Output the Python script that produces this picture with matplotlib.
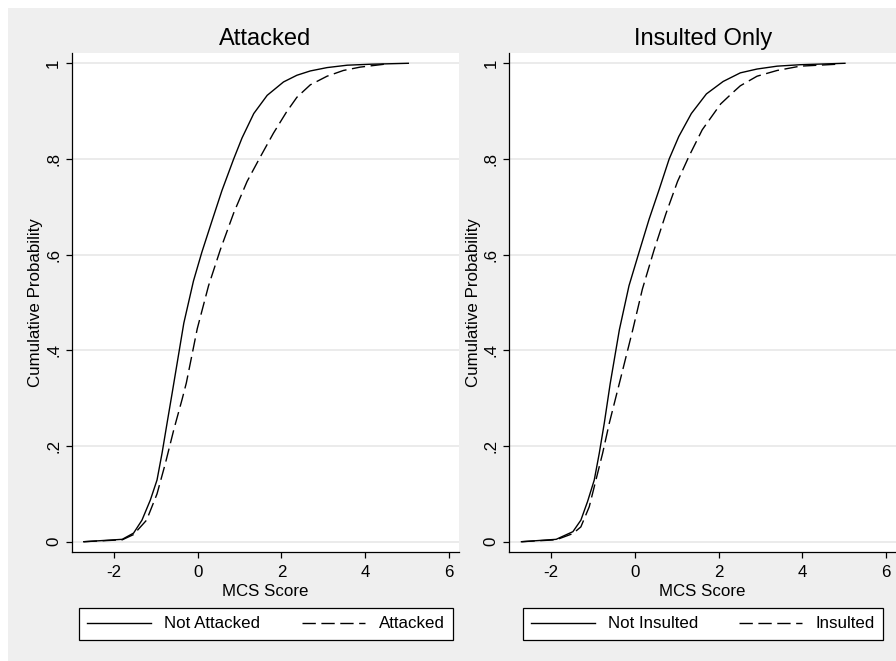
import numpy as np
import matplotlib
matplotlib.use("Agg")
import matplotlib.pyplot as plt
from matplotlib.patches import Rectangle

plt.rcParams['font.family'] = ['Liberation Sans', 'DejaVu Sans']

# cumulative distributions
# panel 1 : Attacked
x_not_att = [-2.72, -1.80, -1.53, -1.33, -1.13, -0.97, -0.85, -0.73, -0.61, -0.33, -0.10, 0.10,
             0.34, 0.58, 0.86, 1.06, 1.34, 1.66, 2.05, 2.37, 2.69, 3.09, 3.57, 4.12, 5.03]
y_not_att = [0.0, 0.005, 0.018, 0.045, 0.087, 0.129, 0.185, 0.248, 0.31, 0.457, 0.545, 0.605,
             0.67, 0.734, 0.80, 0.844, 0.895, 0.933, 0.961, 0.975, 0.984, 0.991, 0.996, 0.998, 1.0]
x_att = [-2.72, -1.80, -1.53, -1.22, -0.97, -0.77, -0.57, -0.37, -0.27, -0.01, 0.26, 0.54,
         0.86, 1.18, 1.50, 1.81, 2.12, 2.37, 2.69, 3.09, 3.48, 3.88, 4.36, 4.55]
y_att = [0.0, 0.004, 0.015, 0.045, 0.10, 0.164, 0.234, 0.298, 0.332, 0.445, 0.535, 0.61,
         0.687, 0.753, 0.805, 0.854, 0.898, 0.929, 0.955, 0.973, 0.985, 0.992, 0.997, 0.999]

# panel 2 : Insulted Only
x_not_ins = [-2.71, -1.88, -1.48, -1.29, -1.13, -0.97, -0.85, -0.73, -0.59, -0.37, -0.14, 0.10,
             0.34, 0.58, 0.82, 1.05, 1.35, 1.71, 2.11, 2.52, 2.92, 3.40, 3.95, 5.02]
y_not_ins = [0.0, 0.005, 0.021, 0.045, 0.084, 0.129, 0.185, 0.248, 0.33, 0.443, 0.535, 0.605,
             0.674, 0.736, 0.80, 0.847, 0.895, 0.936, 0.962, 0.98, 0.988, 0.994, 0.997, 1.0]
x_ins = [-2.71, -1.88, -1.48, -1.29, -1.09, -0.93, -0.77, -0.61, -0.33, -0.05, 0.18,
         0.46, 0.74, 1.02, 1.29, 1.61, 2.05, 2.33, 2.52, 2.92, 3.40, 3.95, 4.83]
y_ins = [0.0, 0.004, 0.017, 0.031, 0.073, 0.129, 0.185, 0.248, 0.345, 0.443, 0.528,
         0.61, 0.685, 0.753, 0.805, 0.861, 0.915, 0.938, 0.953, 0.973, 0.985, 0.994, 0.998]

yticks = [0, .2, .4, .6, .8, 1]
ytick_labels = ['0', '.2', '.4', '.6', '.8', '1']
xticks = [-2, 0, 2, 4, 6]

W, H = 896, 661
fig = plt.figure(figsize=(W / 100, H / 100), dpi=100)
fig.patch.set_facecolor('white')
# grey graph region (white margin on left and top)
fig.add_artist(Rectangle((8 / W, 0), 1, 1 - 8 / H, transform=fig.transFigure,
                         facecolor='#EFEFEF', edgecolor='none', zorder=-5))


def panel(rect, title, xa, ya, xb, yb, lab_a, lab_b, leg_rect):
    ax = fig.add_axes(rect)
    ax.plot(xa, ya, color='black', lw=1.0, label=lab_a)
    ax.plot(xb, yb, color='black', lw=1.0, dashes=(9.6, 4.0), label=lab_b)

    ax.set_xlim(-3.0, 6.24)
    ax.set_ylim(-0.0215, 1.0215)
    ax.set_xticks(xticks)
    ax.set_xticklabels([str(t) for t in xticks])
    ax.set_yticks(yticks)
    ax.set_yticklabels(ytick_labels, rotation=90, va='center')

    ax.grid(axis='y', color='#E6E6E6', lw=1.1)
    ax.set_axisbelow(True)

    # only left and bottom axis lines
    ax.spines['right'].set_visible(False)
    ax.spines['top'].set_visible(False)
    ax.spines['left'].set_linewidth(0.9)
    ax.spines['bottom'].set_linewidth(0.9)
    ax.tick_params(length=4.3, width=0.9, labelsize=12.2, colors='black')
    ax.tick_params(axis='x', pad=5)
    ax.tick_params(axis='y', pad=3.5)

    ax.set_xlabel('MCS Score', fontsize=12.2, labelpad=3)
    ax.set_ylabel('Cumulative Probability', fontsize=12.2, labelpad=2)
    ax.set_title(title, fontsize=17, pad=6)

    leg = ax.legend(loc='center', bbox_to_anchor=leg_rect, bbox_transform=fig.transFigure,
                    mode='expand', ncol=2, fontsize=12.2, frameon=True, fancybox=False,
                    edgecolor='black', framealpha=1, handlelength=3.76, handletextpad=0.78,
                    borderpad=0.5, borderaxespad=0)
    leg.get_frame().set_linewidth(0.9)
    return ax


panel([72 / W, 1 - 552 / H, (459 - 72) / W, (552 - 53) / H], 'Attacked',
      x_not_att, y_not_att, x_att, y_att, 'Not Attacked', 'Attacked',
      (79 / W, 1 - 640 / H, 374 / W, 32 / H))

panel([509.3 / W, 1 - 552 / H, (896 - 509.3) / W, (552 - 53) / H], 'Insulted Only',
      x_not_ins, y_not_ins, x_ins, y_ins, 'Not Insulted', 'Insulted',
      (522.7 / W, 1 - 640 / H, 360.6 / W, 32 / H))

plt.savefig('out.png', dpi=100)
